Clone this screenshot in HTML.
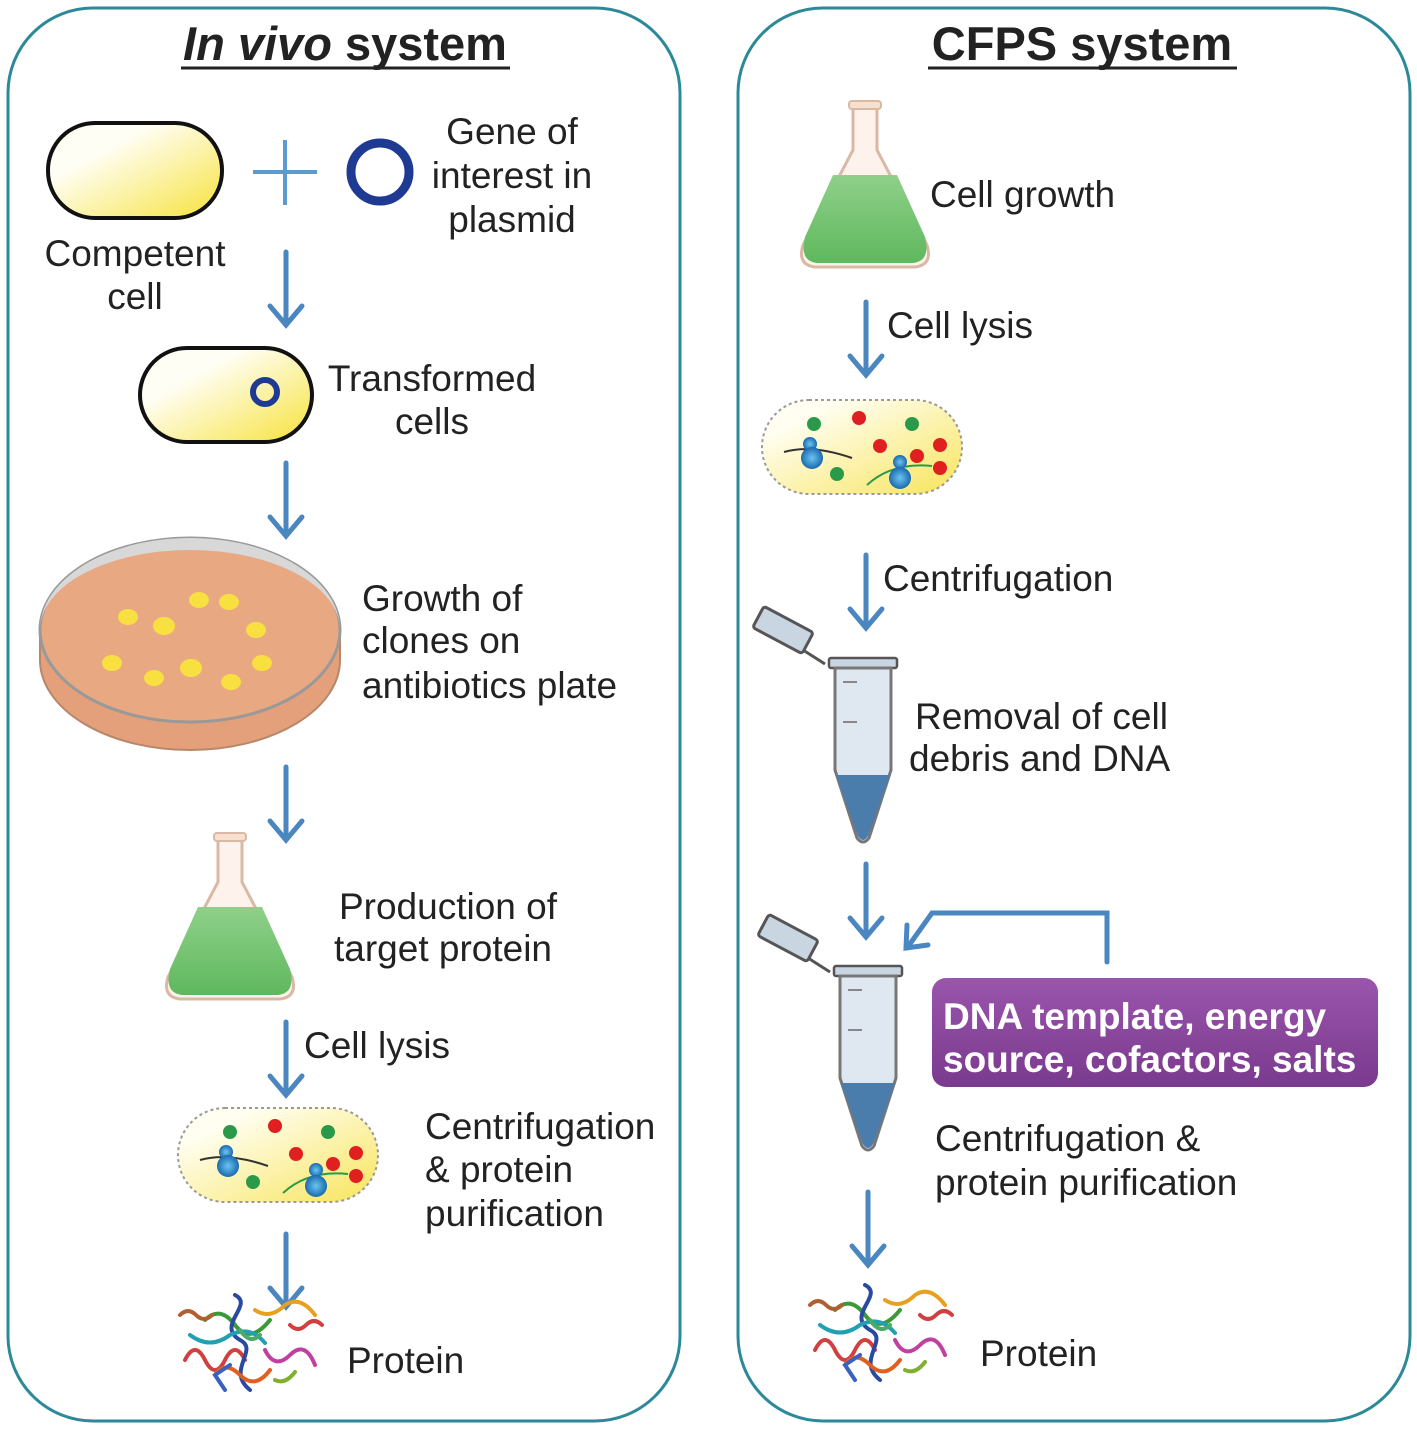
<!DOCTYPE html>
<html><head><meta charset="utf-8"><style>
html,body{margin:0;padding:0;background:#fff;}
svg{display:block;}
text{font-family:"Liberation Sans",sans-serif;fill:#222;}
</style></head><body>
<svg width="1417" height="1431" viewBox="0 0 1417 1431" xmlns="http://www.w3.org/2000/svg">
<defs>
<linearGradient id="yel" x1="0" y1="0" x2="1" y2="1"><stop offset="0.3" stop-color="#fffef5"/><stop offset="1" stop-color="#f7e23a"/></linearGradient>
<linearGradient id="lys" x1="0" y1="0" x2="1" y2="1"><stop offset="0.2" stop-color="#fffef0"/><stop offset="1" stop-color="#f8e45a"/></linearGradient>
<linearGradient id="grn" x1="0" y1="0" x2="0" y2="1"><stop offset="0" stop-color="#8fd08a"/><stop offset="1" stop-color="#5fb85d"/></linearGradient>
<linearGradient id="pur" x1="0" y1="0" x2="0" y2="1"><stop offset="0" stop-color="#9a55ac"/><stop offset="1" stop-color="#7a3a8e"/></linearGradient>
<radialGradient id="blu"><stop offset="0" stop-color="#6cc6f0"/><stop offset="1" stop-color="#1a6ab0"/></radialGradient>
<g id="arrow" stroke="#4a86c0" stroke-width="5" fill="none" stroke-linecap="round">
<line x1="0" y1="0" x2="0" y2="72"/><polyline points="-16,54 0,73 16,54"/>
</g>
<g id="flask">
<path d="M-12,0 L12,0 L12,45 L62,140 Q68,160 50,162 L-50,162 Q-68,160 -62,140 L-12,45 Z" fill="#fdf3ec" stroke="#d9b9a4" stroke-width="3"/>
<path d="M-32,70 L32,70 L60,132 Q66,156 48,158 L-48,158 Q-66,156 -60,132 Z" fill="url(#grn)"/>
<rect x="-16" y="-4" width="32" height="8" rx="3" fill="#f6e0d0" stroke="#d9b9a4" stroke-width="2"/>
</g>
<g id="lysate">
<rect x="0" y="0" width="200" height="94" rx="47" fill="url(#lys)" stroke="#999" stroke-width="2" stroke-dasharray="3,3"/>
<circle cx="52" cy="24" r="7" fill="#2a9a4a"/><circle cx="97" cy="18" r="7" fill="#e02020"/><circle cx="150" cy="24" r="7" fill="#2a9a4a"/>
<circle cx="118" cy="46" r="7" fill="#e02020"/><circle cx="178" cy="45" r="7" fill="#e02020"/><circle cx="178" cy="68" r="7" fill="#e02020"/>
<circle cx="75" cy="74" r="7" fill="#2a9a4a"/><circle cx="155" cy="56" r="7" fill="#e02020"/>
<path d="M22,52 Q50,44 90,58" stroke="#333" stroke-width="2" fill="none"/>
<circle cx="48" cy="44" r="7" fill="url(#blu)"/><circle cx="50" cy="58" r="11" fill="url(#blu)"/>
<path d="M105,85 Q130,62 170,66" stroke="#2a9a4a" stroke-width="2" fill="none"/>
<circle cx="138" cy="62" r="7" fill="url(#blu)"/><circle cx="138" cy="78" r="11" fill="url(#blu)"/>
</g>
<g id="tube">
<path d="M-8,4 L-30,-10" stroke="#555" stroke-width="3" fill="none"/>
<rect x="-78" y="-42" width="56" height="24" rx="3" transform="rotate(28 -50 -30)" fill="#c9d6e2" stroke="#555" stroke-width="3"/>
<rect x="-4" y="-2" width="68" height="10" rx="2" fill="#c9d6e2" stroke="#555" stroke-width="2.5"/>
<path d="M2,8 L58,8 L58,110 L36,178 Q30,186 24,178 L2,110 Z" fill="#dfe8f1" stroke="#777" stroke-width="3"/>
<path d="M3,115 L57,115 L35,176 Q30,184 25,176 Z" fill="#4a7cac"/>
<line x1="10" y1="22" x2="24" y2="22" stroke="#888" stroke-width="2"/><line x1="10" y1="62" x2="24" y2="62" stroke="#888" stroke-width="2"/>
</g>
<g id="protein" fill="none" stroke-width="4" stroke-linecap="round">
<path d="M-60,20 q10,-20 20,0 q10,20 20,0 q10,-20 20,0" stroke="#d04040"/>
<path d="M-40,-20 q15,-15 30,5 q15,20 35,-5" stroke="#3a9a3a"/>
<path d="M-10,-45 c20,10 -20,30 5,45 c20,10 -15,30 10,50" stroke="#2a4aa0"/>
<path d="M10,-30 q15,10 30,-5 q15,-10 30,10" stroke="#e8a020"/>
<path d="M-55,-5 q20,15 40,0 q20,-10 35,8" stroke="#20a0b0"/>
<path d="M20,10 q10,20 25,5 q15,-15 25,10" stroke="#c040a0"/>
<path d="M-30,35 q10,-15 25,0 q15,15 30,-5" stroke="#e06020"/>
<path d="M-65,-25 q8,-8 16,0 q8,8 16,0" stroke="#b06030"/>
<path d="M45,-15 q8,8 16,0 q8,-8 16,0" stroke="#d04040"/>
<path d="M-20,50 l-10,-15 l15,-10" stroke="#3a60c0"/>
<path d="M30,40 q10,5 20,-8" stroke="#80b030"/>
<path d="M-5,-10 q10,15 20,5" stroke="#4aaa6a"/>
</g>
</defs>

<rect x="8" y="8" width="672" height="1413" rx="85" fill="none" stroke="#2c8a98" stroke-width="3"/>
<rect x="738" y="8" width="672" height="1413" rx="85" fill="none" stroke="#2c8a98" stroke-width="3"/>

<text x="345" y="60" font-size="47" font-weight="bold" text-anchor="middle"><tspan font-style="italic">In vivo</tspan> system</text>
<line x1="181" y1="68" x2="510" y2="68" stroke="#222" stroke-width="3"/>

<rect x="48" y="123" width="174" height="95" rx="47" fill="url(#yel)" stroke="#111" stroke-width="4"/>
<line x1="253" y1="172" x2="317" y2="172" stroke="#5b9bd0" stroke-width="4"/>
<line x1="285" y1="140" x2="285" y2="205" stroke="#5b9bd0" stroke-width="4"/>
<circle cx="380" cy="172" r="29" fill="none" stroke="#1f3a93" stroke-width="9"/>
<g font-size="37" text-anchor="middle">
<text x="512" y="144">Gene of</text><text x="512" y="188">interest in</text><text x="512" y="232">plasmid</text>
<text x="135" y="266">Competent</text><text x="135" y="309">cell</text>
<text x="432" y="391">Transformed</text><text x="432" y="434">cells</text>
<text x="448" y="919">Production of</text><text x="443" y="961">target protein</text>
</g>
<use href="#arrow" x="286" y="252"/>
<rect x="140" y="348" width="172" height="94" rx="47" fill="url(#yel)" stroke="#111" stroke-width="4"/>
<circle cx="265" cy="392" r="12" fill="none" stroke="#1f3a93" stroke-width="6"/>
<use href="#arrow" x="286" y="463"/>

<path d="M40,630 L40,660 A150,90 0 0 0 340,660 L340,630 Z" fill="#e3a07a" stroke="#b8866a" stroke-width="2"/>
<ellipse cx="190" cy="630" rx="150" ry="92" fill="#e8a882" stroke="#999" stroke-width="3"/>
<path d="M40,630 A150,92 0 0 1 340,630 A150,80 0 0 0 40,630 Z" fill="#d8d8d8"/>
<g fill="#f8e040">
<ellipse cx="128" cy="617" rx="10" ry="8"/><ellipse cx="164" cy="626" rx="11" ry="9"/><ellipse cx="199" cy="600" rx="10" ry="8"/><ellipse cx="229" cy="602" rx="10" ry="8"/>
<ellipse cx="256" cy="630" rx="10" ry="8"/><ellipse cx="112" cy="663" rx="10" ry="8"/><ellipse cx="154" cy="678" rx="10" ry="8"/><ellipse cx="191" cy="668" rx="11" ry="9"/>
<ellipse cx="231" cy="682" rx="10" ry="8"/><ellipse cx="262" cy="663" rx="10" ry="8"/>
</g>
<g font-size="37"><text x="362" y="611">Growth of</text><text x="362" y="653">clones on</text><text x="362" y="698">antibiotics plate</text></g>
<use href="#arrow" x="286" y="767"/>
<use href="#flask" x="230" y="837"/>
<use href="#arrow" x="286" y="1022"/>
<text x="304" y="1058" font-size="37">Cell lysis</text>
<use href="#lysate" x="178" y="1108"/>
<g font-size="37"><text x="425" y="1139">Centrifugation</text><text x="425" y="1182">&amp; protein</text><text x="425" y="1226">purification</text></g>
<use href="#arrow" x="286" y="1234"/>
<use href="#protein" x="245" y="1340"/>
<text x="347" y="1373" font-size="37">Protein</text>

<text x="1082" y="60" font-size="47" font-weight="bold" text-anchor="middle">CFPS system</text>
<line x1="928" y1="68" x2="1237" y2="68" stroke="#222" stroke-width="3"/>
<use href="#flask" x="865" y="105"/>
<text x="930" y="207" font-size="37">Cell growth</text>
<use href="#arrow" x="866" y="302"/>
<text x="887" y="338" font-size="37">Cell lysis</text>
<use href="#lysate" x="762" y="400"/>
<use href="#arrow" x="866" y="555"/>
<text x="883" y="591" font-size="37">Centrifugation</text>
<use href="#tube" x="833" y="660"/>
<g font-size="37"><text x="915" y="729">Removal of cell</text><text x="909" y="771">debris and DNA</text></g>
<use href="#arrow" x="866" y="864"/>
<g stroke="#4a86c0" stroke-width="5" fill="none" stroke-linecap="round">
<polyline points="1107,962 1107,913 932,913 907,948"/>
<polyline points="907,925 906,948 928,945"/>
</g>
<use href="#tube" x="838" y="968"/>
<rect x="932" y="978" width="446" height="109" rx="14" fill="url(#pur)"/>
<g font-size="37" font-weight="bold"><text x="943" y="1029" style="fill:#fff">DNA template, energy</text><text x="943" y="1072" style="fill:#fff">source, cofactors, salts</text></g>
<g font-size="37"><text x="935" y="1151">Centrifugation &amp;</text><text x="935" y="1195">protein purification</text></g>
<use href="#arrow" x="868" y="1192"/>
<use href="#protein" x="875" y="1330"/>
<text x="980" y="1366" font-size="37">Protein</text>
</svg>
</body></html>
